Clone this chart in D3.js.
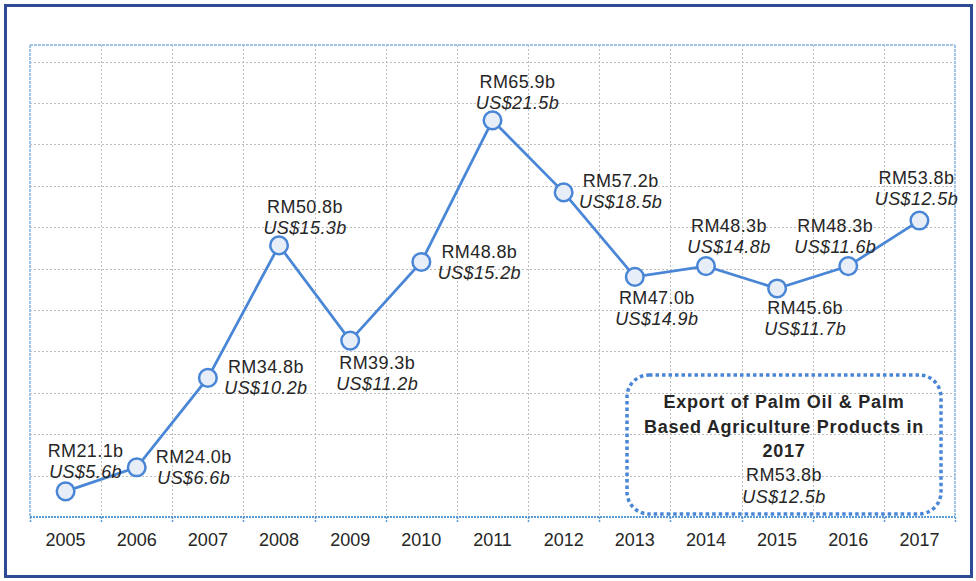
<!DOCTYPE html>
<html>
<head>
<meta charset="utf-8">
<script src="https://cdn.jsdelivr.net/npm/d3@7"></script>
<style>
  html, body { margin: 0; padding: 0; background: #fff; }
  svg text { font-family: "Liberation Sans", Arial, sans-serif; fill: #262626; }
</style>
</head>
<body>
<svg id="chart" width="976" height="581"></svg>
<script>
// Palm oil export chart
const years = ['2005','2006','2007','2008','2009','2010','2011','2012','2013','2014','2015','2016','2017'];
const rmValues = [21.1, 24.0, 34.8, 50.8, 39.3, 48.8, 65.9, 57.2, 47.0, 48.3, 45.6, 48.3, 53.8];
const usdValues = [5.6, 6.6, 10.2, 15.3, 11.2, 15.2, 21.5, 18.5, 14.9, 14.8, 11.7, 11.6, 12.5];
const calloutTitle = ['Export of Palm Oil & Palm', 'Based Agriculture Products in', '2017'];
const calloutYear = '2017';

// where each label sits relative to its marker: [dx of text centre, dy of first baseline]
const labelOffsets = [
  [20, -34], [57, -4], [58, -5], [26, -32], [27, 28], [58, -4], [25, -32],
  [57, -5], [22, 27], [23, -34], [28, 26], [-13, -34], [-3, -37]
];

const plot = { left: 30, right: 955, top: 45, bottom: 517 };
const blue = '#4A86D6';

const svg = d3.select('#chart');

// outer border
svg.append('rect')
  .attr('x', 5.5).attr('y', 5.5)
  .attr('width', 966).attr('height', 571)
  .attr('fill', 'none')
  .attr('stroke', '#2E4A94')
  .attr('stroke-width', 3);

const x = d3.scaleBand().domain(years).range([plot.left, plot.right]).padding(0);
const y = d3.scaleLinear().domain([18, 75]).range([plot.bottom, plot.top]);

// horizontal gridlines
svg.append('g')
  .selectAll('line')
  .data(d3.range(23, 75, 5))
  .join('line')
  .attr('x1', plot.left).attr('x2', plot.right)
  .attr('y1', d => Math.round(y(d)) + 0.5).attr('y2', d => Math.round(y(d)) + 0.5)
  .attr('stroke', '#BDBDBD')
  .attr('stroke-dasharray', '2,2');

// vertical gridlines at category boundaries
const bounds = years.slice(1).map(d => x(d));
svg.append('g')
  .selectAll('line')
  .data(bounds)
  .join('line')
  .attr('x1', d => Math.round(d) + 0.5).attr('x2', d => Math.round(d) + 0.5)
  .attr('y1', plot.top).attr('y2', plot.bottom)
  .attr('stroke', '#BDBDBD')
  .attr('stroke-dasharray', '2,2');

// plot frame (top, left, right) in light blue
const frame = svg.append('g')
  .attr('stroke', '#9DC3E6')
  .attr('stroke-width', 2)
  .attr('stroke-dasharray', '3,1');
frame.append('line').attr('x1', plot.left).attr('x2', plot.right).attr('y1', plot.top).attr('y2', plot.top);
frame.append('line').attr('x1', plot.left).attr('x2', plot.left).attr('y1', plot.top).attr('y2', plot.bottom);
frame.append('line').attr('x1', plot.right).attr('x2', plot.right).attr('y1', plot.top).attr('y2', plot.bottom);

// category axis
const xAxis = svg.append('g')
  .attr('transform', `translate(0,${plot.bottom})`);
xAxis.append('line')
  .attr('x1', plot.left).attr('x2', plot.right)
  .attr('stroke', '#5B9BD5').attr('stroke-width', 2)
  .attr('stroke-dasharray', '2,1');
xAxis.selectAll('line.tick')
  .data([plot.left, ...bounds, plot.right])
  .join('line')
  .attr('class', 'tick')
  .attr('x1', d => Math.round(d) + 0.5).attr('x2', d => Math.round(d) + 0.5)
  .attr('y1', 0).attr('y2', 5)
  .attr('stroke', '#5B9BD5').attr('stroke-width', 1.5)
  .attr('stroke-dasharray', '2,1');
xAxis.selectAll('text')
  .data(years)
  .join('text')
  .attr('x', d => x(d) + x.bandwidth() / 2)
  .attr('y', 29)
  .attr('text-anchor', 'middle')
  .style('font-size', '18px')
  .text(d => d);

// the line
const pts = years.map((yr, i) => ({ yr, rm: rmValues[i], us: usdValues[i], off: labelOffsets[i] }));
const cx = d => x(d.yr) + x.bandwidth() / 2;

svg.append('path')
  .datum(pts)
  .attr('fill', 'none')
  .attr('stroke', blue)
  .attr('stroke-width', 2.75)
  .attr('d', d3.line().x(cx).y(d => y(d.rm)));

svg.append('g')
  .selectAll('circle')
  .data(pts)
  .join('circle')
  .attr('cx', cx)
  .attr('cy', d => y(d.rm))
  .attr('r', 8.8)
  .attr('fill', '#E8EEF8')
  .attr('stroke', blue)
  .attr('stroke-width', 2.5);

// data labels
const labels = svg.append('g')
  .selectAll('text')
  .data(pts)
  .join('text')
  .attr('text-anchor', 'middle')
  .style('font-size', '18px')
  .style('letter-spacing', '0.4px');
labels.append('tspan')
  .attr('x', d => cx(d) + d.off[0])
  .attr('y', d => y(d.rm) + d.off[1])
  .text(d => `RM${d.rm.toFixed(1)}b`);
labels.append('tspan')
  .attr('x', d => cx(d) + d.off[0])
  .attr('y', d => y(d.rm) + d.off[1] + 21)
  .style('font-style', 'italic')
  .text(d => `US$${d.us.toFixed(1)}b`);

// callout box for 2017
const box = { x: 627, y: 375, w: 314, h: 139 };
svg.append('rect')
  .attr('x', box.x).attr('y', box.y)
  .attr('width', box.w).attr('height', box.h)
  .attr('rx', 22).attr('ry', 22)
  .attr('fill', 'none')
  .attr('stroke', blue)
  .attr('stroke-width', 3.5)
  .attr('stroke-dasharray', '3.5,3');

const last = years.indexOf(calloutYear);
const cxBox = box.x + box.w / 2;
const callout = svg.append('text')
  .attr('text-anchor', 'middle')
  .style('font-size', '18px');
calloutTitle.forEach((t, i) => {
  callout.append('tspan')
    .attr('x', cxBox).attr('y', 408 + i * 24.5)
    .style('font-weight', 'bold')
    .style('letter-spacing', '0.75px')
    .text(t);
});
callout.append('tspan')
  .attr('x', cxBox).attr('y', 481)
  .style('letter-spacing', '0.4px')
  .text(`RM${rmValues[last].toFixed(1)}b`);
callout.append('tspan')
  .attr('x', cxBox).attr('y', 503)
  .style('font-style', 'italic')
  .style('letter-spacing', '0.4px')
  .text(`US$${usdValues[last].toFixed(1)}b`);
</script>
</body>
</html>
